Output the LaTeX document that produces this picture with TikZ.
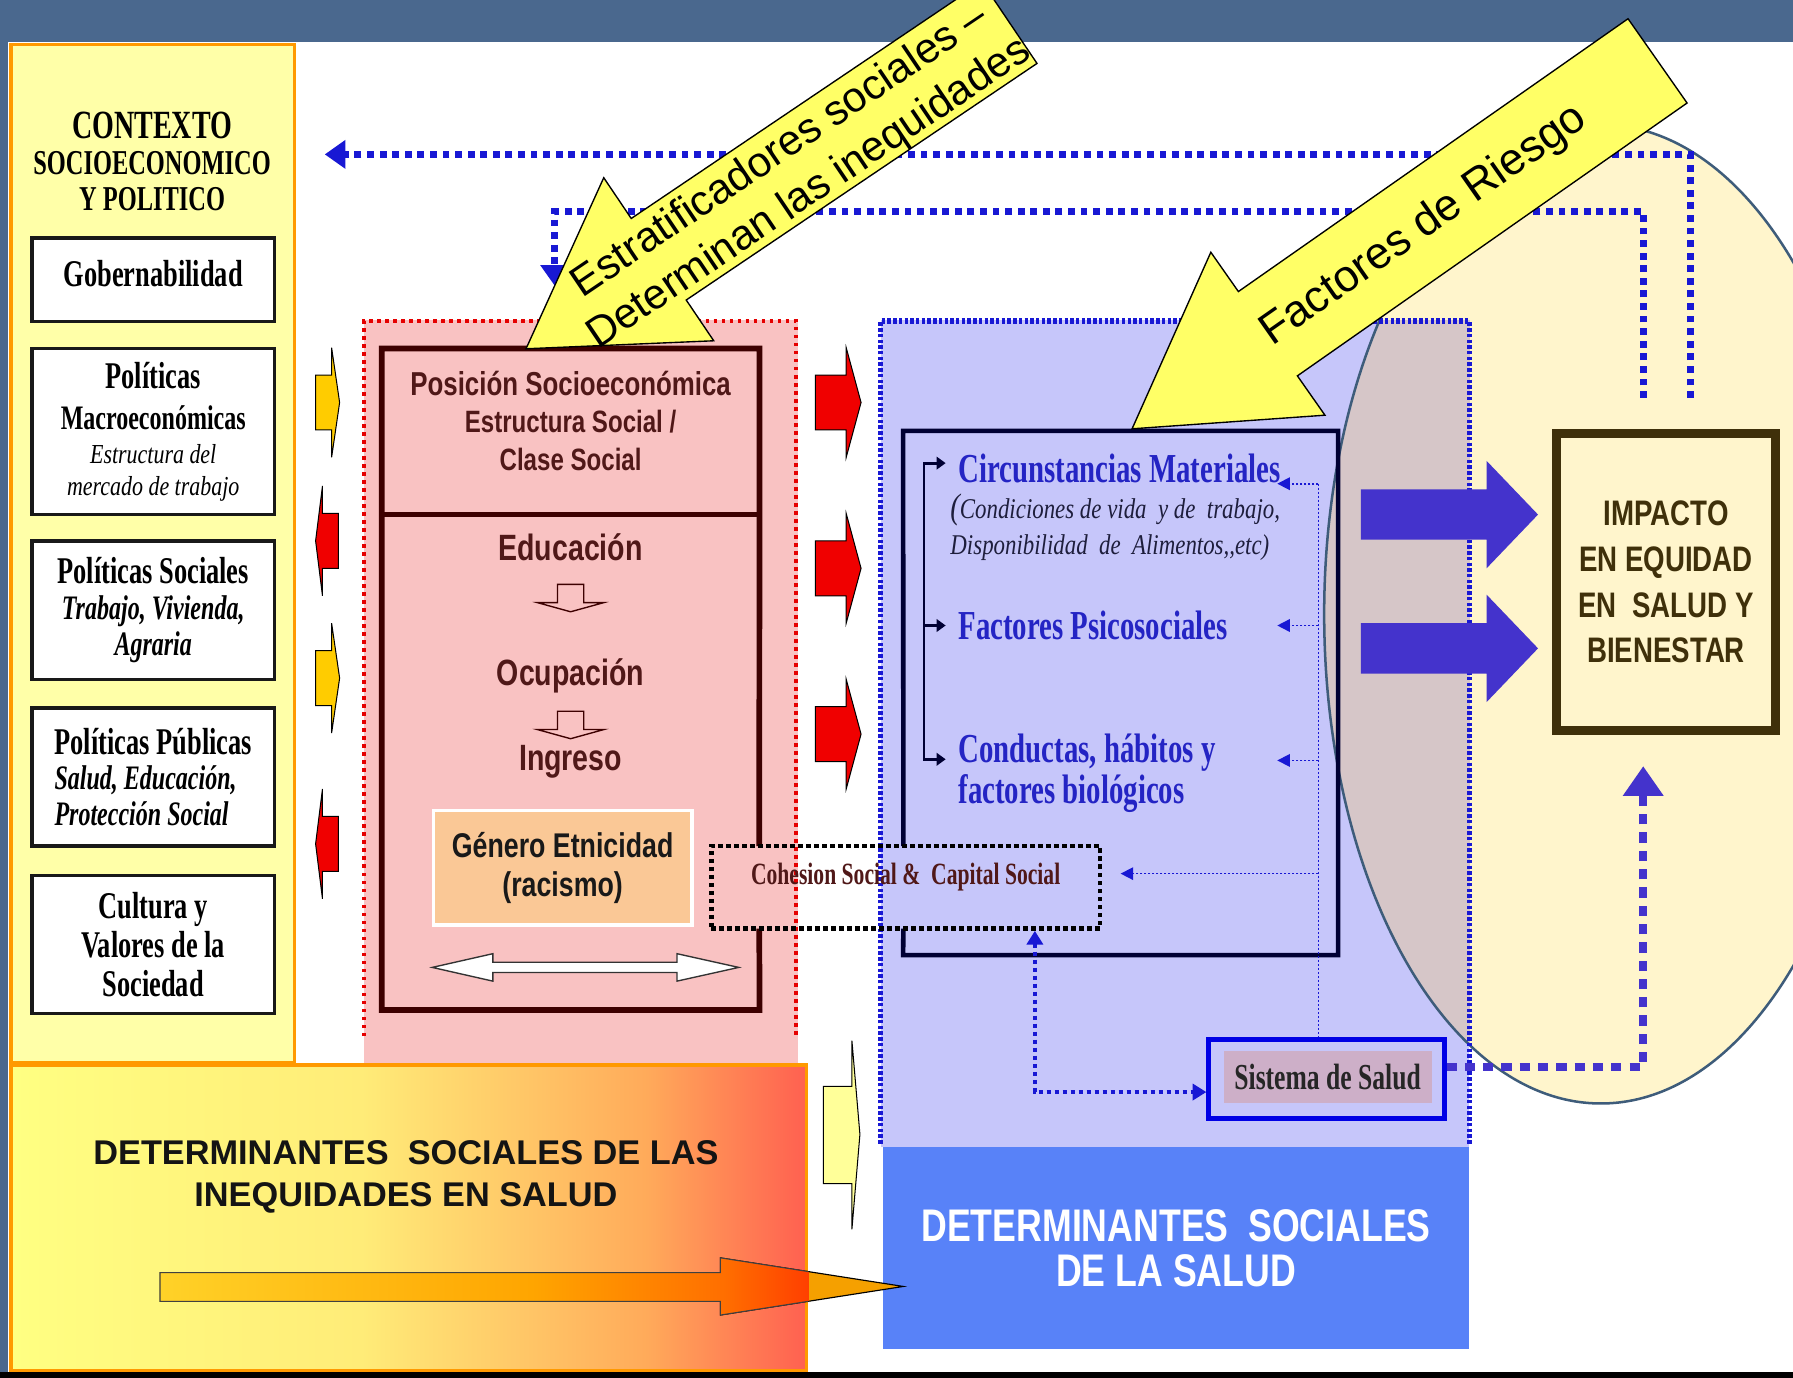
\documentclass[tikz,border=0pt]{standalone}
\usepackage{fontspec}
\setmainfont{Liberation Serif}
\newfontfamily\tnr[FakeStretch=0.7]{Liberation Serif}
\newfontfamily\tnrw[FakeStretch=0.8]{Liberation Serif}
\newfontfamily\arn[FakeStretch=0.78]{Liberation Sans}
\newfontfamily\arial{Liberation Sans}
\usetikzlibrary{arrows.meta,calc}

\definecolor{banner}{RGB}{74,104,142}
\definecolor{panelY}{RGB}{255,255,168}
\definecolor{panelO}{RGB}{255,153,0}
\definecolor{pinkF}{RGB}{249,194,194}
\definecolor{lav}{RGB}{198,198,250}
\definecolor{cream}{RGB}{255,245,204}
\definecolor{overl}{RGB}{214,198,200}
\definecolor{ellline}{RGB}{62,92,122}
\definecolor{maroon}{RGB}{61,0,0}
\definecolor{maroonT}{RGB}{80,24,24}
\definecolor{navy}{RGB}{0,0,51}
\definecolor{navyT}{RGB}{30,30,60}
\definecolor{dblue}{RGB}{24,24,212}
\definecolor{slate}{RGB}{68,51,204}
\definecolor{textblue}{RGB}{36,36,196}
\definecolor{peach}{RGB}{250,200,150}
\definecolor{mauve}{RGB}{205,175,200}
\definecolor{dsblue}{RGB}{88,130,248}
\definecolor{impb}{RGB}{63,48,10}
\definecolor{arrowY}{RGB}{255,255,102}
\definecolor{smY}{RGB}{255,204,0}
\definecolor{smR}{RGB}{240,0,0}
\definecolor{paleY}{RGB}{255,255,153}
\definecolor{gy}{RGB}{255,255,130}
\definecolor{gy2}{RGB}{255,236,120}
\definecolor{go}{RGB}{255,170,90}
\definecolor{gr}{RGB}{255,96,80}
\definecolor{aa}{RGB}{255,210,40}
\definecolor{ab}{RGB}{255,165,0}
\definecolor{ac}{RGB}{255,110,0}
\definecolor{ad}{RGB}{255,60,0}
\definecolor{arrO}{RGB}{245,160,0}
\pgfdeclarehorizontalshading{ineq}{100bp}{color(0bp)=(gy); color(25bp)=(gy); color(47bp)=(gy2); color(65bp)=(go); color(75bp)=(gr); color(100bp)=(gr)}
\pgfdeclarehorizontalshading{arrsh}{100bp}{color(0bp)=(aa); color(25bp)=(aa); color(50bp)=(ab); color(63bp)=(ac); color(69bp)=(ad); color(100bp)=(ad)}

\begin{document}
\begin{tikzpicture}[x=1pt,y=-1pt,
  lbox/.style={draw=black!90, line width=3pt, fill=white, minimum width=212pt, inner sep=0pt, align=center},
  smarr/.style={draw=black, line width=0.9pt},
  topdot/.style={draw=dblue, line width=6pt, dash pattern=on 6pt off 5pt},
  thindot/.style={draw=dblue, line width=1.4pt, dash pattern=on 2pt off 1.5pt},
  thintip/.style={-{Triangle[length=11pt,width=11pt]}},
  blkarr/.style={draw=black, line width=1.2pt},
  bigtext/.style={font=\arial\fontsize{37}{45}\selectfont, align=center}
]
\useasboundingbox (0,0) rectangle (1568,1205);
\begin{scope}
\clip (0,0) rectangle (1568,1205);
\fill[white] (0,0) rectangle (1568,1205);
\fill[banner] (0,0) rectangle (1568,37);
\fill[banner] (0,0) rectangle (7,1205);
\fill[black] (0,1200) rectangle (1568,1205);

% ---------- left panel ----------
\node[draw=panelO, line width=3pt, fill=panelY, minimum width=248pt, minimum height=890pt, inner sep=0pt] (ctx) at (133.5,484) {};
\node[align=center, font=\tnr\bfseries\fontsize{30.5}{31.5}\selectfont] (ctxt) at (133,141) {{\fontsize{35}{31.5}\selectfont CONTEXTO}\\SOCIOECONOMICO\\Y POLITICO};
\node[lbox, minimum height=73pt, text depth=10pt, font=\tnr\bfseries\fontsize{33}{33}\selectfont] (gob) at (134,244.5) {Gobernabilidad};
\node[lbox, minimum height=145pt, font=\tnr\bfseries\fontsize{33}{29}\selectfont] (mac) at (134,377.5) {Políticas\\[7pt]{\fontsize{30}{29}\selectfont Macroeconómicas}\\{\tnrw\mdseries\itshape\fontsize{24}{29}\selectfont Estructura del}\\[-1pt]{\tnrw\mdseries\itshape\fontsize{24}{29}\selectfont mercado de trabajo}};
\node[lbox, minimum height=121pt, font=\tnr\bfseries\fontsize{33}{31.5}\selectfont] (soc) at (134,533.5) {Políticas Sociales\\{\itshape\fontsize{30}{31.5}\selectfont Trabajo, Vivienda,}\\{\itshape\fontsize{30}{31.5}\selectfont Agraria}};
\node[lbox, minimum height=121pt, align=left, font=\tnr\bfseries\fontsize{33}{31}\selectfont] (pub) at (134,679.5) {Políticas Públicas\\{\itshape\fontsize{30}{31}\selectfont Salud, Educación,}\\{\itshape\fontsize{30}{31}\selectfont Protección Social}};
\node[lbox, minimum height=121pt, font=\tnr\bfseries\fontsize{33}{34}\selectfont] (cul) at (134,826) {Cultura y\\Valores de la\\Sociedad};

% small arrows between panel and pink box
\foreach \c in {352,593}
  \draw[smarr, fill=smY] (276,\c-24) -- (290,\c-24) -- (290,\c-48) -- (297,\c) -- (290,\c+48) -- (290,\c+24) -- (276,\c+24) -- cycle;
\foreach \c in {473,738}
  \draw[smarr, fill=smR] (296,\c-24) -- (282,\c-24) -- (282,\c-48) -- (276,\c) -- (282,\c+48) -- (282,\c+24) -- (296,\c+24) -- cycle;

% ---------- pink box ----------
\node[fill=pinkF, minimum width=380pt, minimum height=650pt, inner sep=0pt] (pink) at (508,605) {};
\draw[red!90!black, line width=3.5pt, dash pattern=on 3pt off 4pt] (318,906) -- (318,281) -- (696,281) -- (696,906);
\node[minimum width=330pt, minimum height=578pt, inner sep=0pt] (pos) at (499,594) {};
\coordinate (divy) at (0,450);
\draw[maroon, line width=5pt] (664,740) -- (pos.north east) -- (pos.north west) -- (pos.south west) -- (pos.south east) -- (664,812);
\draw[maroon, line width=5pt] (pos.west |- divy) -- (pos.east |- divy);
\node[align=center, text=maroonT, font=\arn\bfseries\fontsize{27}{33}\selectfont] (pse) at (499,368) {{\fontsize{29}{33}\selectfont Posición Socioeconómica}\\Estructura Social /\\Clase Social};
\node[text=maroonT, font=\arn\bfseries\fontsize{32}{32}\selectfont] (edu) at (499,479) {Educación};
\node[text=maroonT, font=\arn\bfseries\fontsize{32}{32}\selectfont] (ocu) at (499,591) {Ocupación};
\node[text=maroonT, font=\arn\bfseries\fontsize{32}{32}\selectfont] (ing) at (499,666) {Ingreso};
\draw[maroon, line width=1.2pt, fill=pinkF, shift={(499,511)}] (-11.5,0) -- (11.5,0) -- (11.5,16) -- (29,16) -- (0,24) -- (-29,16) -- (-11.5,16) -- cycle;
\draw[maroon, line width=1.2pt, fill=pinkF, shift={(499,622)}] (-11.5,0) -- (11.5,0) -- (11.5,16) -- (29,16) -- (0,24) -- (-29,16) -- (-11.5,16) -- cycle;
\node[fill=peach, draw=white, line width=3pt, minimum width=226pt, minimum height=100pt, inner sep=0pt, align=center, font=\arn\bfseries\fontsize{30}{34}\selectfont, text=black!90] (gen) at (492,759) {Género Etnicidad\\(racismo)};
\draw[blkarr, draw=black!80, fill=white] (378,846) -- (431,834) -- (431,841.5) -- (592,841.5) -- (592,834) -- (646,846) -- (592,858) -- (592,850.5) -- (431,850.5) -- (431,858) -- cycle;

% red arrows to the right
\foreach \c in {352,497,642}
  \draw[smarr, fill=smR] (713,\c-24) -- (740,\c-24) -- (740,\c-48) -- (753,\c) -- (740,\c+48) -- (740,\c+24) -- (713,\c+24) -- cycle;
\draw[smarr, fill=paleY] (720,950) -- (745,950) -- (745,910) -- (752,992) -- (745,1075) -- (745,1035) -- (720,1035) -- cycle;

% ---------- lavender box and ellipse ----------
\node[fill=lav, minimum width=515pt, minimum height=723pt, inner sep=0pt] (lavb) at (1027.5,641.5) {};
\fill[cream] (1400,537) ellipse [x radius=242pt, y radius=428pt];
\begin{scope}
  \clip (1400,537) ellipse [x radius=242pt, y radius=428pt];
  \fill[overl] (lavb.north west) rectangle (lavb.south east);
\end{scope}
\draw[ellline, line width=2.2pt] (1400,537) ellipse [x radius=242pt, y radius=428pt];
\draw[dblue, line width=5pt, dash pattern=on 3pt off 2pt] (770,1000) -- (770,281) -- (1285,281) -- (1285,1000);

\node[fill=dsblue, minimum width=513pt, minimum height=177pt, inner sep=0pt, align=center, text=white, font=\arn\bfseries\fontsize{40}{40}\selectfont] (dss) at (1028.5,1091.5) {DETERMINANTES\ \ SOCIALES\\DE LA SALUD};

% ---------- bottom gradient box ----------
\node[shade, shading=ineq, draw=panelO, line width=3pt, minimum width=696pt, minimum height=267pt, inner sep=0pt] (dsi) at (357.5,1065) {};
\node[align=center, font=\arial\bfseries\fontsize{30}{37}\selectfont, text=black!92] (dsit) at (355,1029) {DETERMINANTES\ \ SOCIALES DE LAS\\INEQUIDADES EN SALUD};
\draw[black, line width=1pt, fill=arrO] (140,1113) -- (630,1113) -- (630,1100) -- (790,1125) -- (630,1150) -- (630,1138) -- (140,1138) -- cycle;
\begin{scope}
  \clip (dsi.north west) rectangle (dsi.south east);
  \shade[shading=arrsh] (140,1113) -- (630,1113) -- (630,1100) -- (790,1125) -- (630,1150) -- (630,1138) -- (140,1138) -- cycle;
  \draw[black!75, line width=0.9pt] (140,1113) -- (630,1113) -- (630,1100) -- (790,1125) -- (630,1150) -- (630,1138) -- (140,1138) -- cycle;
\end{scope}

% ---------- inner navy box ----------
\node[minimum width=380pt, minimum height=458pt, inner sep=0pt] (mat) at (980,606) {};
\draw[navy, line width=4pt] (790,740) -- (mat.north west) -- (mat.north east) -- (mat.south east) -- (mat.south west) -- (790,812);
\node[anchor=west, inner sep=0pt, text=textblue, font=\tnr\bfseries\fontsize{36}{36}\selectfont] (cm) at (838,410) {Circunstancias Materiales};
\node[anchor=west, inner sep=0pt, align=left, text=navyT, font=\tnrw\itshape\fontsize{25}{31}\selectfont] (cnd) at (831,461) {{\fontsize{31}{31}\selectfont(}Condiciones de vida\ \ y de\ \ trabajo,\\Disponibilidad\ \ de\ \ Alimentos,,etc)};
\node[anchor=west, inner sep=0pt, text=textblue, font=\tnr\bfseries\fontsize{36}{36}\selectfont] (ps) at (838,547) {Factores Psicosociales};
\node[anchor=west, inner sep=0pt, align=left, text=textblue, font=\tnr\bfseries\fontsize{36}{36}\selectfont] (cd) at (838,676) {Conductas, hábitos y\\factores biológicos};
\coordinate (bt) at (808,405);
\coordinate (bb) at (808,664);
\draw[navy, line width=2.5pt, {Triangle[length=8pt,width=11pt]}-{Triangle[length=8pt,width=11pt]}, shorten <=11pt, shorten >=11pt] (bt -| cm.west) -- (bt) -- (bb) -- (bb -| cd.west);
\draw[navy, line width=2.5pt, -{Triangle[length=8pt,width=11pt]}, shorten >=11pt] (808,547) -- (ps.west);

% sistema de salud and thin dotted feedback arrows
\node[draw=blue!90!black, line width=4pt, fill=lav, minimum width=206pt, minimum height=69pt, inner sep=0pt] (sis) at (1160,943.5) {};
\node[fill=mauve, minimum width=182pt, minimum height=46pt, inner sep=0pt, font=\tnr\bfseries\fontsize{32}{32}\selectfont, text=black!85] (sist) at (1161,942) {Sistema de Salud};
\coordinate (vt) at (1153,423);
\draw[thindot] (vt) -- (vt |- sis.north);
\coordinate (h1) at (1117,423);
\coordinate (h2) at (1117,547);
\coordinate (h3) at (1117,665);
\coordinate (h4) at (980,764);
\draw[thindot, thintip] (vt) -- (h1);
\draw[thindot, thintip] (vt |- h2) -- (h2);
\draw[thindot, thintip] (vt |- h3) -- (h3);
\draw[thindot, thintip] (vt |- h4) -- (h4);

% cohesion box
\node[draw=black, line width=4pt, dash pattern=on 4pt off 3pt, minimum width=340pt, minimum height=72pt, inner sep=0pt] (coh) at (792,776) {};
\node[font=\tnr\bfseries\fontsize{27}{27}\selectfont, text=maroonT] (coht) at (792,767) {Cohesion Social \&\ \ Capital Social};
\coordinate (cx) at (905,955);
\draw[dblue, line width=4pt, dash pattern=on 4pt off 3pt, {Triangle[length=12pt,width=14pt]}-{Triangle[length=12pt,width=14pt]}] (coh.south -| cx) -- (cx) -- (sis.west |- cx);

% ---------- IMPACTO ----------
\node[draw=impb, line width=8pt, fill=cream, minimum width=192pt, minimum height=260pt, inner sep=0pt, align=center, text=impb, font=\arn\bfseries\fontsize{31}{40}\selectfont] (imp) at (1457,509) {IMPACTO\\EN EQUIDAD\\EN\ \ SALUD Y\\BIENESTAR};
\fill[slate] (1190,428) -- (1300,428) -- (1300,403) -- (1345,450) -- (1300,497) -- (1300,472) -- (1190,472) -- cycle;
\fill[slate] (1190,545) -- (1300,545) -- (1300,520) -- (1345,567) -- (1300,614) -- (1300,589) -- (1190,589) -- cycle;
\coordinate (sc) at (1437,933);
\draw[slate, line width=7pt, dash pattern=on 9pt off 7pt, -{Triangle[length=26pt,width=34pt]}, shorten >=27pt] (sis.east |- sc) -- (sc) -- (imp.south -| sc);

% top feedback lines
\coordinate (t1) at (1478,135);
\draw[topdot, -{Triangle[length=18pt,width=24pt]}, shorten <=27pt, shorten >=25pt] (imp.north -| t1) -- (t1) -- (ctx.east |- t1);
\coordinate (t2) at (1437,185);
\coordinate (t2b) at (485,185);
\draw[topdot, -{Triangle[length=18pt,width=24pt]}, shorten <=27pt, shorten >=30pt] (imp.north -| t2) -- (t2) -- (t2b) -- (t2b |- pink.north);

% ---------- big yellow arrows ----------
\begin{scope}[shift={(460,305)}, rotate=34]
  \draw[black, line width=1.2pt, fill=arrowY] (0,0) -- (140,-86) -- (140,-43) -- (510,-43) -- (510,43) -- (140,43) -- (140,86) -- cycle;
  \node[bigtext, rotate=34] (estr) at (281,4) {Estratificadores sociales –\\Determinan las inequidades};
\end{scope}
\begin{scope}[shift={(990,375)}, rotate=35]
  \draw[black, line width=1.2pt, fill=arrowY] (0,0) -- (145,-87) -- (145,-45) -- (561,-45) -- (561,45) -- (145,45) -- (145,87) -- cycle;
  \node[rotate=35, font=\arial\fontsize{39}{39}\selectfont] (fdr) at (311,1) {Factores de Riesgo};
\end{scope}
\end{scope}
\end{tikzpicture}
\end{document}
